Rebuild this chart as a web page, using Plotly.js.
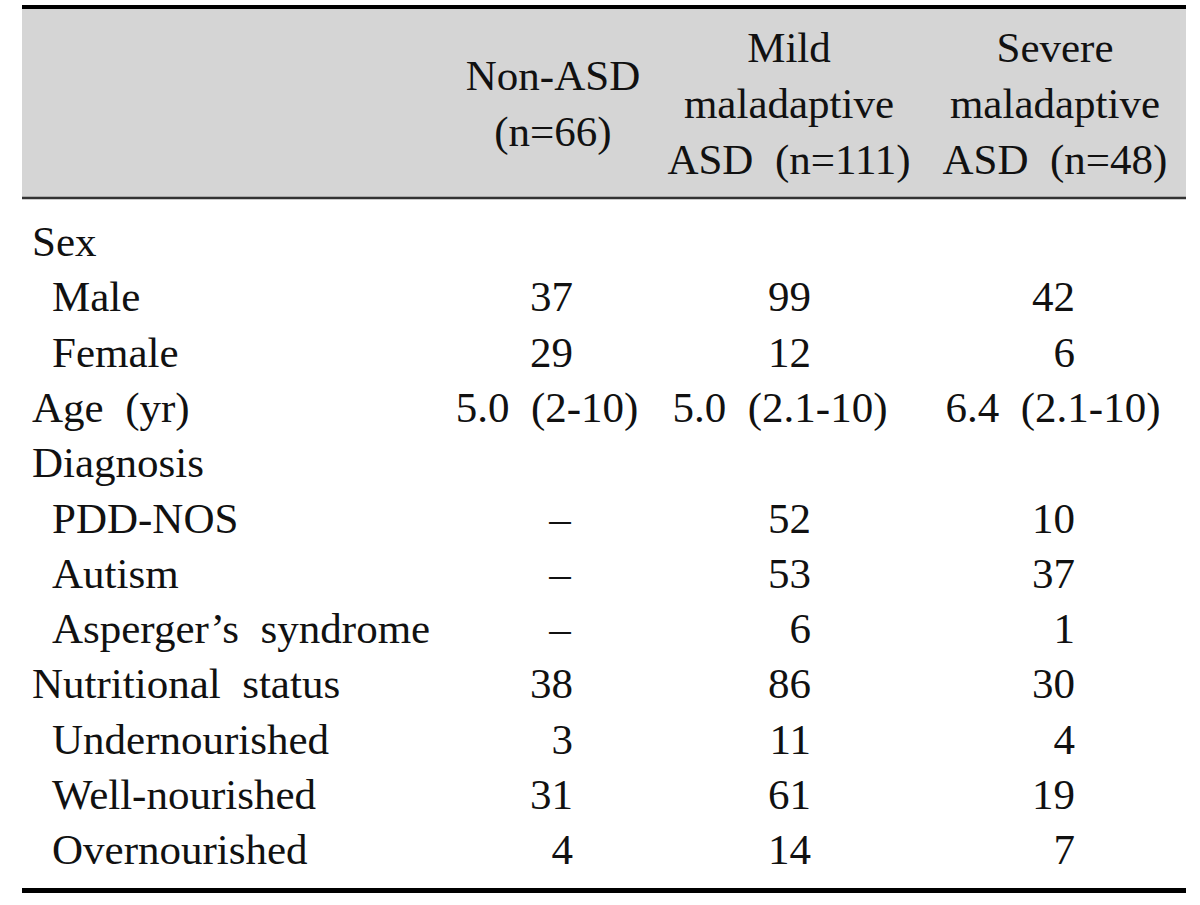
<!DOCTYPE html>
<html>
<head>
<meta charset="utf-8">
<script src="https://cdn.plot.ly/plotly-3.0.1.min.js"></script>
<style>
  html, body { margin: 0; padding: 0; background: #ffffff; }
  #chart { width: 1200px; height: 905px; }
</style>
</head>
<body>
<div id="chart"></div>
<script>
// ---------- data ----------
const columnHeaders = [
  'Non-ASD<br>(n=66)',
  'Mild<br>maladaptive<br>ASD\u00A0\u00A0(n=111)',
  'Severe<br>maladaptive<br>ASD\u00A0\u00A0(n=48)'
];
const rowLabels = [
  'Sex', 'Male', 'Female', 'Age\u00A0\u00A0(yr)', 'Diagnosis', 'PDD-NOS', 'Autism',
  'Asperger\u2019s\u00A0\u00A0syndrome', 'Nutritional\u00A0\u00A0status',
  'Undernourished', 'Well-nourished', 'Overnourished'
];
const rowIndent = [0, 1, 1, 0, 0, 1, 1, 1, 0, 1, 1, 1];
const nonAsd = ['', '37', '29', '5.0\u00A0\u00A0(2-10)', '', '\u2013', '\u2013', '\u2013', '38', '3', '31', '4'];
const mildAsd = ['', '99', '12', '5.0\u00A0\u00A0(2.1-10)', '', '52', '53', '6', '86', '11', '61', '14'];
const severeAsd = ['', '42', '6', '6.4\u00A0\u00A0(2.1-10)', '', '10', '37', '1', '30', '4', '19', '7'];
const ageRow = 3;

// ---------- styles / geometry ----------
const FONT = 'Liberation Serif, Times New Roman, serif';
const FS = 43;
const TXT = '#111111';
const geom = {
  left: 22, right: 1186,
  topLine: 7, headTop: 9, headBottom: 197, sepLine: 198, bottomLine: 890.5,
  headerY: 107,
  firstRowY: 245.3, rowStep: 55.3,
  labelX: 32, indentX: 52
};
const colStyle = [
  { right: 573, center: 547, head: 553, dash: 560 },
  { right: 811, center: 780, head: 789, dash: 800 },
  { right: 1075, center: 1053, head: 1055, dash: 1065 }
];
const columns = [nonAsd, mildAsd, severeAsd];

const rowY = i => geom.firstRowY + i * geom.rowStep;

const traces = [];

// row labels
traces.push({
  type: 'scatter', mode: 'text',
  x: rowIndent.map(v => v ? geom.indentX : geom.labelX),
  y: rowLabels.map((_, i) => rowY(i)),
  text: rowLabels,
  textposition: 'middle right',
  textfont: { family: FONT, size: FS, color: TXT },
  hoverinfo: 'skip', cliponaxis: false
});

// column headers
traces.push({
  type: 'scatter', mode: 'text',
  x: colStyle.map(c => c.head),
  y: columnHeaders.map(() => geom.headerY),
  text: columnHeaders,
  textposition: 'middle center',
  textfont: { family: FONT, size: FS, color: TXT },
  hoverinfo: 'skip', cliponaxis: false
});

// body cells
columns.forEach((vals, c) => {
  const st = colStyle[c];
  traces.push({
    type: 'scatter', mode: 'text',
    x: vals.map((v, i) => i === ageRow ? st.center : (v === '\u2013' ? st.dash : st.right)),
    y: vals.map((_, i) => rowY(i)),
    text: vals,
    textposition: vals.map((v, i) => (i === ageRow || v === '\u2013') ? 'middle center' : 'middle left'),
    textfont: { family: FONT, size: FS, color: TXT },
    hoverinfo: 'skip', cliponaxis: false
  });
});

const shapes = [
  { type: 'rect', xref: 'x', yref: 'y', x0: geom.left, x1: geom.right, y0: geom.headTop, y1: geom.headBottom,
    fillcolor: '#d5d5d5', line: { width: 0 }, layer: 'below' },
  { type: 'line', xref: 'x', yref: 'y', x0: geom.left, x1: geom.right, y0: geom.topLine, y1: geom.topLine,
    line: { color: '#000000', width: 4 } },
  { type: 'line', xref: 'x', yref: 'y', x0: geom.left, x1: geom.right, y0: geom.sepLine, y1: geom.sepLine,
    line: { color: '#333333', width: 2.5 } },
  { type: 'line', xref: 'x', yref: 'y', x0: geom.left, x1: geom.right, y0: geom.bottomLine, y1: geom.bottomLine,
    line: { color: '#000000', width: 5 } }
];

const layout = {
  width: 1200, height: 905,
  margin: { l: 0, r: 0, t: 0, b: 0, pad: 0 },
  paper_bgcolor: '#ffffff', plot_bgcolor: '#ffffff',
  showlegend: false, hovermode: false,
  xaxis: { range: [0, 1200], visible: false, fixedrange: true },
  yaxis: { range: [905, 0], visible: false, fixedrange: true },
  shapes: shapes
};

Plotly.newPlot('chart', traces, layout, { staticPlot: true, displayModeBar: false });
</script>
</body>
</html>
